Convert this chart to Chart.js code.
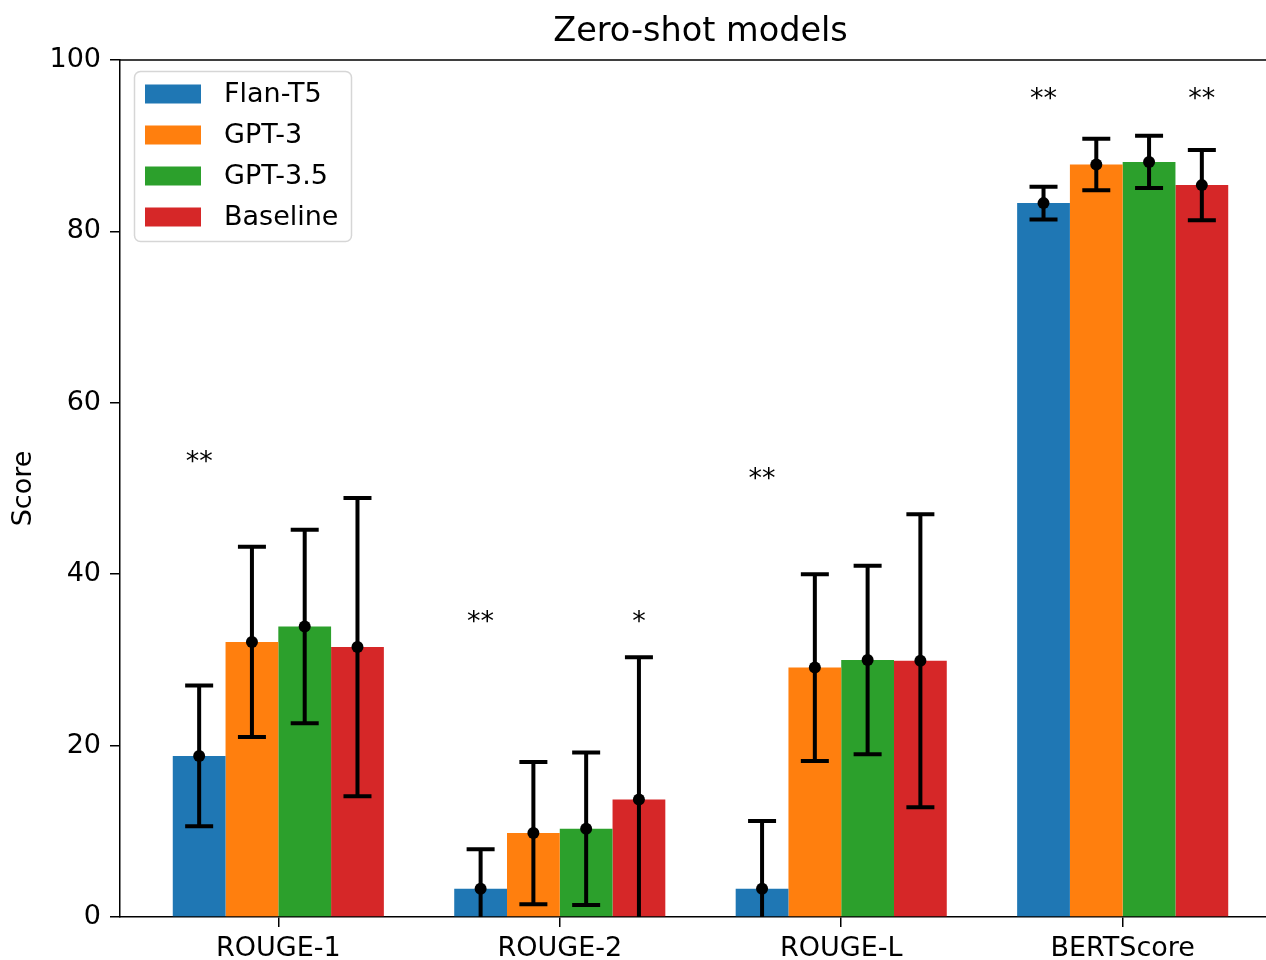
<!DOCTYPE html>
<html>
<head>
<meta charset="utf-8">
<script src="https://cdn.jsdelivr.net/npm/chart.js@4.4.1/dist/chart.umd.min.js"></script>
<style>
  html, body { margin: 0; padding: 0; background: #fff; overflow: hidden; }
  #wrap { width: 1266px; height: 960px; overflow: hidden; }
</style>
</head>
<body>
<div id="wrap"><canvas id="chart" width="1300" height="960"></canvas></div>
<script>
const categories = ['ROUGE-1', 'ROUGE-2', 'ROUGE-L', 'BERTScore'];
const seriesNames = ['Flan-T5', 'GPT-3', 'GPT-3.5', 'Baseline'];
const seriesColors = ['#1f77b4', '#ff7f0e', '#2ca02c', '#d62728'];

const flanT5 = [18.8, 3.3, 3.3, 83.3];
const gpt3 = [32.1, 9.8, 29.1, 87.8];
const gpt35 = [33.9, 10.3, 30.0, 88.1];
const baseline = [31.5, 13.7, 29.9, 85.4];

const flanT5Err = [8.2, 4.6, 7.9, 1.9];
const gpt3Err = [11.1, 8.3, 10.9, 3.0];
const gpt35Err = [11.3, 8.9, 11.0, 3.05];
const baselineErr = [17.4, 16.6, 17.1, 4.1];

// significance markers, per series, and the height they sit at per category
const flanT5Stars = ['**', '**', '**', '**'];
const gpt3Stars = ['', '', '', ''];
const gpt35Stars = ['', '', '', ''];
const baselineStars = ['', '*', '', '**'];
const starHeights = [53.6, 34.9, 51.6, 95.9];

const yTicks = [0, 20, 40, 60, 80, 100];

const values = [flanT5, gpt3, gpt35, baseline];
const errors = [flanT5Err, gpt3Err, gpt35Err, baselineErr];
const stars = [flanT5Stars, gpt3Stars, gpt35Stars, baselineStars];

const FONT = 'DejaVu Sans';

const datasets = seriesNames.map(function(name, i) {
  return {
    label: name,
    data: values[i].map(function(v, j) { return { x: j, y: v }; }),
    backgroundColor: seriesColors[i],
    borderWidth: 0,
    categoryPercentage: 0.75,
    barPercentage: 1.0,
  };
});

const errorBarPlugin = {
  id: 'errorBars',
  afterDatasetsDraw(chart) {
    const ctx = chart.ctx;
    const y = chart.scales.y;
    const area = chart.chartArea;
    ctx.save();
    ctx.beginPath();
    ctx.rect(area.left, area.top, area.right - area.left, area.bottom - area.top);
    ctx.clip();
    ctx.strokeStyle = '#000';
    ctx.fillStyle = '#000';
    ctx.lineWidth = 4;
    chart.data.datasets.forEach(function(ds, i) {
      const meta = chart.getDatasetMeta(i);
      meta.data.forEach(function(bar, j) {
        const v = values[i][j];
        const e = errors[i][j];
        const x = bar.x;
        const top = y.getPixelForValue(v + e);
        const bot = y.getPixelForValue(v - e);
        ctx.beginPath();
        ctx.moveTo(x, top);
        ctx.lineTo(x, bot);
        ctx.moveTo(x - 14, top);
        ctx.lineTo(x + 14, top);
        ctx.moveTo(x - 14, bot);
        ctx.lineTo(x + 14, bot);
        ctx.stroke();
        ctx.beginPath();
        ctx.arc(x, y.getPixelForValue(v), 6, 0, Math.PI * 2);
        ctx.fill();
      });
    });
    ctx.restore();

    // stars
    ctx.save();
    ctx.fillStyle = '#000';
    ctx.font = '27px "' + FONT + '"';
    ctx.textAlign = 'center';
    ctx.textBaseline = 'alphabetic';
    chart.data.datasets.forEach(function(ds, i) {
      const meta = chart.getDatasetMeta(i);
      meta.data.forEach(function(bar, j) {
        const s = stars[i][j];
        if (!s) return;
        ctx.fillText(s, bar.x, y.getPixelForValue(starHeights[j]) + 12);
      });
    });
    ctx.restore();
  }
};

const framePlugin = {
  id: 'frame',
  afterDraw(chart) {
    const ctx = chart.ctx;
    const a = chart.chartArea;
    ctx.save();
    ctx.strokeStyle = '#000';
    ctx.lineWidth = 1.5;
    ctx.beginPath();
    ctx.moveTo(a.left, a.top);
    ctx.lineTo(a.right, a.top);
    ctx.lineTo(a.right, a.bottom);
    ctx.stroke();

    // title
    ctx.fillStyle = '#000';
    ctx.font = '33.5px "' + FONT + '"';
    ctx.textAlign = 'center';
    ctx.textBaseline = 'alphabetic';
    ctx.fillText('Zero-shot models', (a.left + a.right) / 2, 41);

    // legend
    const lx = 134.5, ly = 71.5, lw = 217, lh = 170, r = 6;
    ctx.beginPath();
    ctx.moveTo(lx + r, ly);
    ctx.arcTo(lx + lw, ly, lx + lw, ly + lh, r);
    ctx.arcTo(lx + lw, ly + lh, lx, ly + lh, r);
    ctx.arcTo(lx, ly + lh, lx, ly, r);
    ctx.arcTo(lx, ly, lx + lw, ly, r);
    ctx.closePath();
    ctx.fillStyle = 'rgba(255,255,255,0.8)';
    ctx.fill();
    ctx.strokeStyle = 'rgba(204,204,204,0.8)';
    ctx.lineWidth = 1.5;
    ctx.stroke();

    ctx.font = '27px "' + FONT + '"';
    ctx.textAlign = 'left';
    ctx.textBaseline = 'middle';
    seriesNames.forEach(function(name, i) {
      const cy = 94 + i * 41;
      ctx.fillStyle = seriesColors[i];
      ctx.fillRect(145, cy - 9.5, 56, 19);
      ctx.fillStyle = '#000';
      ctx.fillText(name, 224, cy + 1);
    });
    ctx.restore();
  }
};

new Chart(document.getElementById('chart'), {
  type: 'bar',
  data: { datasets: datasets },
  options: {
    responsive: false,
    animation: false,
    devicePixelRatio: 1,
    layout: { padding: { left: 0, right: 19, top: 60, bottom: 0 } },
    plugins: { legend: { display: false }, tooltip: { enabled: false } },
    scales: {
      x: {
        type: 'linear',
        min: -0.5625,
        max: 3.5625,
        offset: false,
        afterBuildTicks: function(axis) {
          axis.ticks = categories.map(function(_, i) { return { value: i }; });
        },
        afterFit: function(axis) { axis.height = 43; },
        ticks: {
          autoSkip: false,
          maxRotation: 0,
          color: '#000',
          padding: 6,
          font: { family: FONT, size: 27 },
          callback: function(v) { return categories[v] || ''; }
        },
        grid: { offset: false, drawOnChartArea: false, drawTicks: true, tickLength: 10, tickColor: '#000', lineWidth: 1.5 },
        border: { display: true, color: '#000', width: 1.5 }
      },
      y: {
        min: 0,
        max: 100,
        afterBuildTicks: function(axis) {
          axis.ticks = yTicks.map(function(v) { return { value: v }; });
        },
        afterFit: function(axis) { axis.width = 120; },
        ticks: {
          color: '#000',
          padding: 9,
          font: { family: FONT, size: 27 }
        },
        grid: { drawOnChartArea: false, drawTicks: true, tickLength: 10, tickColor: '#000', lineWidth: 1.5 },
        border: { display: true, color: '#000', width: 1.5 },
        title: {
          display: true,
          text: 'Score',
          color: '#000',
          padding: { top: 8, bottom: 0 },
          font: { family: FONT, size: 27 }
        }
      }
    }
  },
  plugins: [errorBarPlugin, framePlugin]
});
</script>
</body>
</html>
